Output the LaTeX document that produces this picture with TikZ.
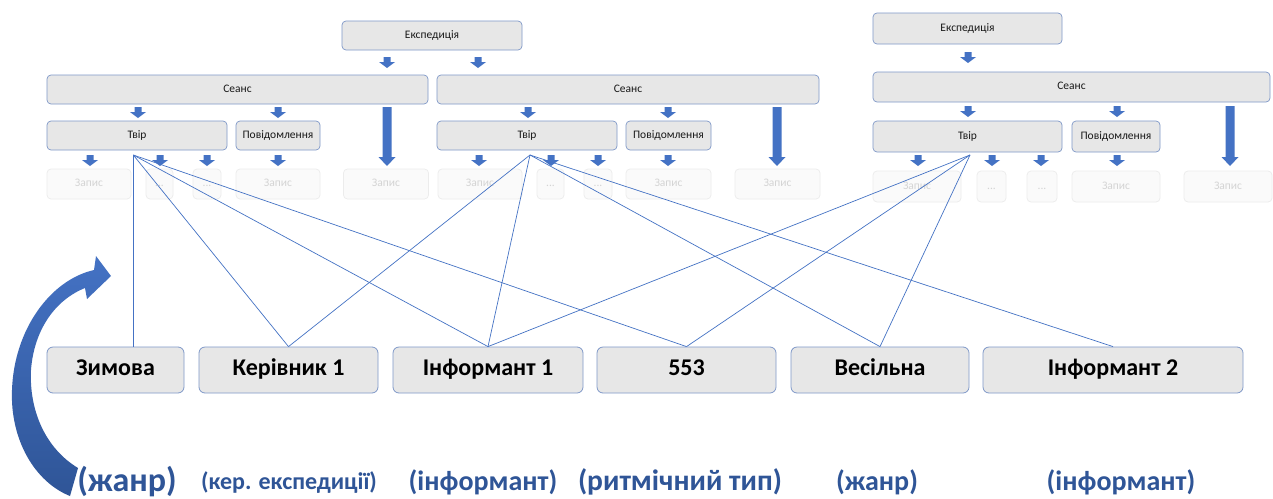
\documentclass[tikz,border=0pt]{standalone}
\usepackage{fontspec}
\setmainfont{Carlito}
\definecolor{bx}{HTML}{E7E7E7}
\definecolor{bxline}{HTML}{7F98C8}
\definecolor{arr}{HTML}{4472C4}
\definecolor{lbl}{HTML}{2F5597}
\definecolor{faint}{HTML}{FAFAFA}
\definecolor{faintline}{HTML}{ECECEC}
\definecolor{fainttext}{HTML}{D4D4D4}
\tikzset{
 sbox/.style={draw=bxline, fill=bx, rounded corners=4pt, line width=0.7pt, inner sep=0pt, text height=7.5pt, text depth=2.5pt, font=\fontsize{11.5}{13}\selectfont, text=black!90},
 fbox/.style={draw=faintline, fill=faint, rounded corners=4pt, line width=0.7pt, inner sep=0pt, text height=7.5pt, text depth=2.5pt, font=\fontsize{11.5}{13}\selectfont, text=fainttext},
 bbox/.style={draw=bxline, fill=bx, rounded corners=6pt, line width=0.8pt, inner sep=0pt, minimum height=46pt, text height=16pt, text depth=5pt, font=\bfseries\fontsize{24}{27}\selectfont},
 lab/.style={text=lbl, font=\bfseries\fontsize{28}{30}\selectfont, anchor=base, inner sep=0pt},
 link/.style={draw=arr, line width=0.7pt},
}
\newcommand\barrow[3]{\fill[arr] (#1-3.5,#2) -- (#1+3.5,#2) -- (#1+3.5,#3-6) -- (#1+8,#3-6) -- (#1,#3) -- (#1-8,#3-6) -- (#1-3.5,#3-6) -- cycle;}
\newcommand\bigarrow[3]{\fill[arr] (#1-4.5,#2) -- (#1+4.5,#2) -- (#1+4.5,#3-9) -- (#1+8.5,#3-9) -- (#1,#3) -- (#1-8.5,#3-9) -- (#1-4.5,#3-9) -- cycle;}
\begin{document}
\begin{tikzpicture}[x=1pt,y=-1pt]
\useasboundingbox[fill=white] (0,0) rectangle (1273,498);
% ---- left group ----
\node[sbox, minimum width=180pt, minimum height=29pt] (exp1) at (432,35.5) {Експедиція};
\node[sbox, minimum width=381pt, minimum height=29pt] (se1) at (237.5,89.5) {Сеанс};
\node[sbox, minimum width=382pt, minimum height=29pt] (se2) at (628,89.5) {Сеанс};
\node[sbox, minimum width=180pt, minimum height=29pt] (tv1) at (137,135.5) {Твір};
\node[sbox, minimum width=84pt, minimum height=29pt] (pv1) at (278,135.5) {Повідомлення};
\node[fbox, minimum width=84pt, minimum height=30pt] (z1a) at (89,184) {Запис};
\node[fbox, minimum width=27pt, minimum height=30pt] (d1a) at (159.5,184) {...};
\node[fbox, minimum width=28pt, minimum height=30pt] (d1b) at (207,184) {...};
\node[fbox, minimum width=84pt, minimum height=30pt] (z1b) at (278,184) {Запис};
\node[fbox, minimum width=85pt, minimum height=30pt] (z1c) at (386,184) {Запис};
\node[sbox, minimum width=180pt, minimum height=29pt] (tv2) at (527,135.5) {Твір};
\node[sbox, minimum width=85pt, minimum height=29pt] (pv2) at (668.5,135.5) {Повідомлення};
\node[fbox, minimum width=84pt, minimum height=30pt] (z2a) at (480,184) {Запис};
\node[fbox, minimum width=27pt, minimum height=30pt] (d2a) at (550.5,184) {...};
\node[fbox, minimum width=28pt, minimum height=30pt] (d2b) at (598,184) {...};
\node[fbox, minimum width=85pt, minimum height=30pt] (z2b) at (668.5,184) {Запис};
\node[fbox, minimum width=85pt, minimum height=30pt] (z2c) at (777.5,184) {Запис};
\barrow{387}{57}{68}
\barrow{478}{57}{68}
\barrow{138}{107}{118}
\barrow{278}{107}{118}
\bigarrow{387}{107}{166}
\barrow{90}{155}{166}
\barrow{160}{155}{166}
\barrow{207}{155}{166}
\barrow{278}{155}{166}
\barrow{528}{107}{118}
\barrow{668}{107}{118}
\bigarrow{777}{107}{166}
\barrow{479}{155}{166}
\barrow{551}{155}{166}
\barrow{598}{155}{166}
\barrow{668}{155}{166}
% ---- right group ----
\node[sbox, minimum width=189pt, minimum height=31pt] (exp2) at (967.5,28.5) {Експедиція};
\node[sbox, minimum width=397pt, minimum height=30pt] (se3) at (1071.5,87) {Сеанс};
\node[sbox, minimum width=189pt, minimum height=31pt] (tv3) at (967.5,136.5) {Твір};
\node[sbox, minimum width=88pt, minimum height=31pt] (pv3) at (1116,136.5) {Повідомлення};
\node[fbox, minimum width=88pt, minimum height=31pt] (z3a) at (917,186.5) {Запис};
\node[fbox, minimum width=29pt, minimum height=31pt] (d3a) at (991.5,186.5) {...};
\node[fbox, minimum width=30pt, minimum height=31pt] (d3b) at (1042,186.5) {...};
\node[fbox, minimum width=88pt, minimum height=31pt] (z3b) at (1116,186.5) {Запис};
\node[fbox, minimum width=88pt, minimum height=31pt] (z3c) at (1228,186.5) {Запис};
\barrow{968}{52}{63}
\barrow{968}{106}{117}
\barrow{1117}{106}{117}
\bigarrow{1230}{106}{166}
\barrow{918}{155}{166}
\barrow{992}{155}{166}
\barrow{1041}{155}{166}
\barrow{1117}{155}{166}
% ---- bottom row ----
\node[bbox, minimum width=137pt] (zym) at (115.5,370) {Зимова};
\node[bbox, minimum width=179pt] (ker) at (288.5,370) {Керівник 1};
\node[bbox, minimum width=190pt] (inf1) at (488,370) {Інформант 1};
\node[bbox, minimum width=179pt] (n553) at (686.5,370) {553};
\node[bbox, minimum width=178pt] (ves) at (880,370) {Весільна};
\node[bbox, minimum width=260pt] (inf2) at (1113,370) {Інформант 2};
% ---- links ----
\coordinate (o1) at (133.3,155);
\coordinate (o2) at (530,155);
\coordinate (o3) at (970,155);
\draw[link] (o1) -- ([xshift=17.8pt]zym.north);
\draw[link] (o1) -- (ker.north);
\draw[link] (o1) -- (inf1.north);
\draw[link] (o1) -- (n553.north);
\draw[link] (o2) -- (ker.north);
\draw[link] (o2) -- (inf1.north);
\draw[link] (o2) -- (ves.north);
\draw[link] (o2) -- (inf2.north);
\draw[link] (o3) -- (inf1.north);
\draw[link] (o3) -- (n553.north);
\draw[link] (o3) -- (ves.north);
% ---- curved arrow ----
\shade[top color=arr, bottom color=lbl]
 (78,468) .. controls (45,448) and (29,410) .. (31,370)
 .. controls (34,330) and (55,300) .. (85,288)
 -- (87,299) -- (111,276) -- (96,256) -- (94,270)
 .. controls (50,280) and (14,330) .. (12,390)
 .. controls (10,440) and (35,482) .. (70,496) -- cycle;
% ---- labels ----
\node[lab, font=\bfseries\fontsize{34}{36}\selectfont] (l1) at (127,491) {(жанр)};
\node[lab, font=\bfseries\fontsize{24}{26}\selectfont] (l2) at (289,489) {(кер. експедиції)};
\node[lab] (l3) at (483,490) {(інформант)};
\node[lab, font=\bfseries\fontsize{29.5}{31}\selectfont] (l4) at (680,490) {(ритмічний тип)};
\node[lab] (l5) at (877,490) {(жанр)};
\node[lab] (l6) at (1121,490) {(інформант)};
\end{tikzpicture}
\end{document}
